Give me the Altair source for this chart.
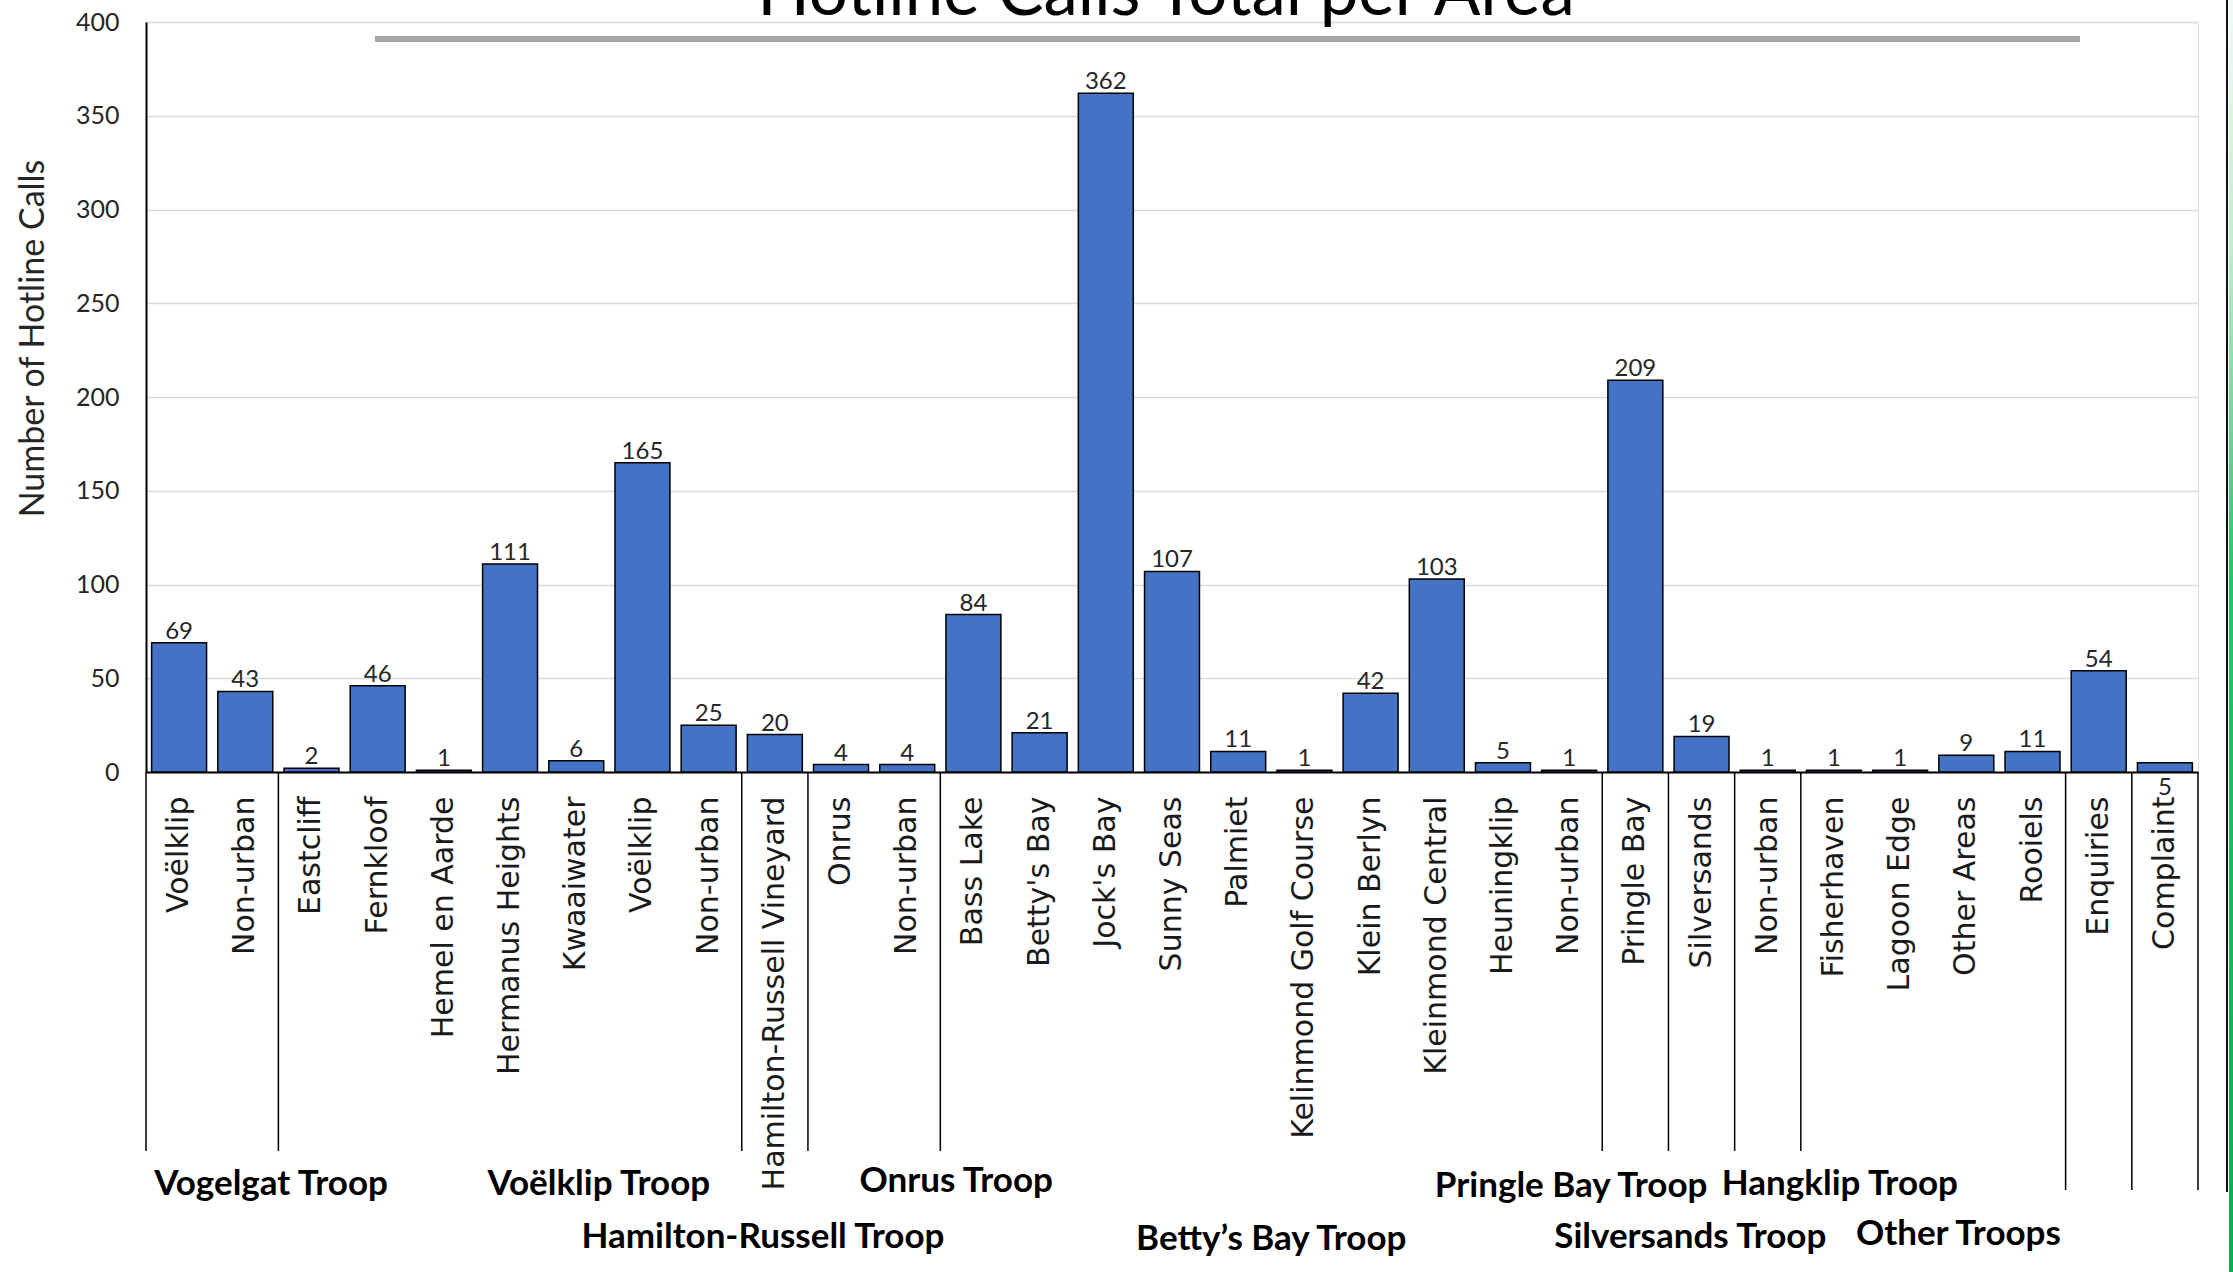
import json

import altair as alt
import pandas as pd

# ---- data -------------------------------------------------------------
areas = [
    "Voëlklip", "Non-urban", "Eastcliff", "Fernkloof", "Hemel en Aarde",
    "Hermanus Heights", "Kwaaiwater", "Voëlklip", "Non-urban",
    "Hamilton-Russell Vineyard", "Onrus", "Non-urban", "Bass Lake",
    "Betty's Bay", "Jock's Bay", "Sunny Seas", "Palmiet",
    "Kelinmond Golf Course", "Klein Berlyn", "Kleinmond Central",
    "Heuningklip", "Non-urban", "Pringle Bay", "Silversands", "Non-urban",
    "Fisherhaven", "Lagoon Edge", "Other Areas", "Rooiels", "Enquiries",
    "Complaint",
]
calls = [69, 43, 2, 46, 1, 111, 6, 165, 25, 20, 4, 4, 84, 21, 362, 107, 11,
         1, 42, 103, 5, 1, 209, 19, 1, 1, 1, 9, 11, 54, 5]

troops = ["Vogelgat Troop", "Voëlklip Troop", "Hamilton-Russell Troop",
          "Onrus Troop", "Betty’s Bay Troop", "Pringle Bay Troop",
          "Silversands Troop", "Hangklip Troop", "Other Troops"]
troop_sizes = [2, 7, 1, 2, 10, 1, 1, 1, 4]

chart_title = "Hotline Calls Total per Area"
y_title = "Number of Hotline Calls"

# ---- layout -----------------------------------------------------------
W, H = 2052, 750
PAD = {"left": 146, "top": 22, "right": 35, "bottom": 500}
N = len(areas)

# caption anchors along the category axis (in category units) and baselines
caption_pos = [1.89, 6.84, 9.32, 12.24, 17.0, 21.53, 23.33, 25.59, 27.38]
caption_y = [1173, 1173, 1226, 1170, 1228, 1175, 1226, 1173, 1223]

df = pd.DataFrame({"idx": list(range(N)), "area": areas, "calls": calls})

# boundaries between troop groups, then the two ungrouped cells
bounds = [0]
for s in troop_sizes:
    bounds.append(bounds[-1] + s)
grouped_end = bounds[-1]
bounds += list(range(grouped_end + 1, N + 1))
sep_df = pd.DataFrame({
    "pos": bounds,
    "end": [1168 if b >= grouped_end else 1129 for b in bounds],
})
cap_df = pd.DataFrame({"troop": troops, "pos": caption_pos, "ybase": caption_y})

label_js = json.dumps(areas, ensure_ascii=False)


def band():
    # every layer gets the same full category domain so positions agree
    return alt.Scale(type="band", domain=list(range(N)),
                     paddingInner=0.17, paddingOuter=0.085)


def y_lin():
    return alt.Scale(domain=[0, 400], nice=False)


x_index = alt.Scale(domain=[0, N], nice=False, zero=False)

TEXT = "#262626"

bars = alt.Chart(df).mark_bar(
    fill="#4472C4", stroke="#000000", strokeWidth=1.5
).encode(
    x=alt.X(
        "idx:O", scale=band(),
        axis=alt.Axis(
            title=None, labelExpr=f"{label_js}[datum.value]", labelAngle=-90,
            labelFont="DejaVu Sans", labelFontSize=30, labelColor="#1a1a1a",
            labelPadding=24, labelLimit=1000, labelOverlap=False,
            ticks=False, domainColor="#000000", domainWidth=2, grid=False,
        ),
    ),
    y=alt.Y(
        "calls:Q", scale=y_lin(),
        axis=alt.Axis(
            values=list(range(0, 401, 50)), title=y_title,
            titleFont="Lato", titleFontSize=34, titleFontWeight="normal",
            titleColor=TEXT, titleAngle=-90, titleAlign="center",
            titleBaseline="alphabetic", titleX=-103, titleY=316,
            labelFont="Lato", labelFontSize=25, labelColor=TEXT,
            labelPadding=27, ticks=False, domainColor="#000000",
            domainWidth=2, gridColor="#d9d9d9", gridWidth=1.5,
        ),
    ),
)

value_labels = alt.Chart(df).transform_filter(
    "datum.area !== 'Complaint'"
).mark_text(
    font="Lato", fontSize=24, color=TEXT, baseline="alphabetic", dy=-4
).encode(
    x=alt.X("idx:O", scale=band(), bandPosition=0.5, axis=None),
    y=alt.Y("calls:Q", scale=y_lin(), axis=None),
    text="calls:Q",
)

complaint_label = alt.Chart(df).transform_filter(
    "datum.area === 'Complaint'"
).mark_text(
    font="Lato", fontSize=24, color=TEXT, baseline="alphabetic", dy=32
).encode(
    x=alt.X("idx:O", scale=band(), bandPosition=0.5, axis=None),
    y=alt.Y("calls:Q", scale=y_lin(), axis=None),
    text="calls:Q",
)

separators = alt.Chart(sep_df).mark_rule(color="#000000", strokeWidth=1.5).encode(
    x=alt.X("pos:Q", scale=x_index, axis=None),
    y=alt.Y("end:Q", scale=None, axis=None),
    y2=alt.value(H),
)

captions = alt.Chart(cap_df).mark_text(
    font="Lato", fontSize=35, fontWeight="bold", color="#000000",
    baseline="alphabetic", align="center",
).encode(
    x=alt.X("pos:Q", scale=x_index, axis=None),
    y=alt.Y("ybase:Q", scale=None, axis=None),
    text="troop:N",
)

one = pd.DataFrame({"t": [chart_title]})

title_mark = alt.Chart(one).mark_text(
    font="Lato", fontSize=69, color="#000000", baseline="alphabetic",
    align="center",
).encode(x=alt.value(1020), y=alt.value(-7), text="t:N")

title_underline = alt.Chart(one).mark_rule(
    color="#a6a6a6", strokeWidth=6
).encode(x=alt.value(229), x2=alt.value(1934), y=alt.value(17))

edge_line = alt.Chart(one).mark_rule(color="#111111", strokeWidth=2).encode(
    x=alt.value(2081), y=alt.value(-22), y2=alt.value(1170)
)

edge_strip = alt.Chart(one).mark_rect(
    fill=alt.LinearGradient(
        gradient="linear",
        stops=[
            alt.GradientStop(color="#f2fbf5", offset=0),
            alt.GradientStop(color="#bdeccd", offset=0.2),
            alt.GradientStop(color="#2fc06a", offset=0.45),
            alt.GradientStop(color="#10a851", offset=1),
        ],
        x1=0, x2=0, y1=0, y2=1,
    )
).encode(
    x=alt.value(2083), x2=alt.value(2087), y=alt.value(-22), y2=alt.value(1250)
)

chart = alt.layer(
    bars, value_labels, complaint_label, separators, captions, title_mark,
    title_underline, edge_line, edge_strip,
).resolve_scale(x="independent", y="independent").properties(
    width=W, height=H, padding=PAD, autosize=alt.AutoSizeParams(type="none"),
).configure_view(stroke=None).configure(background="#ffffff")

chart.save("out.html", embed_options={"renderer": "svg", "actions": False})
